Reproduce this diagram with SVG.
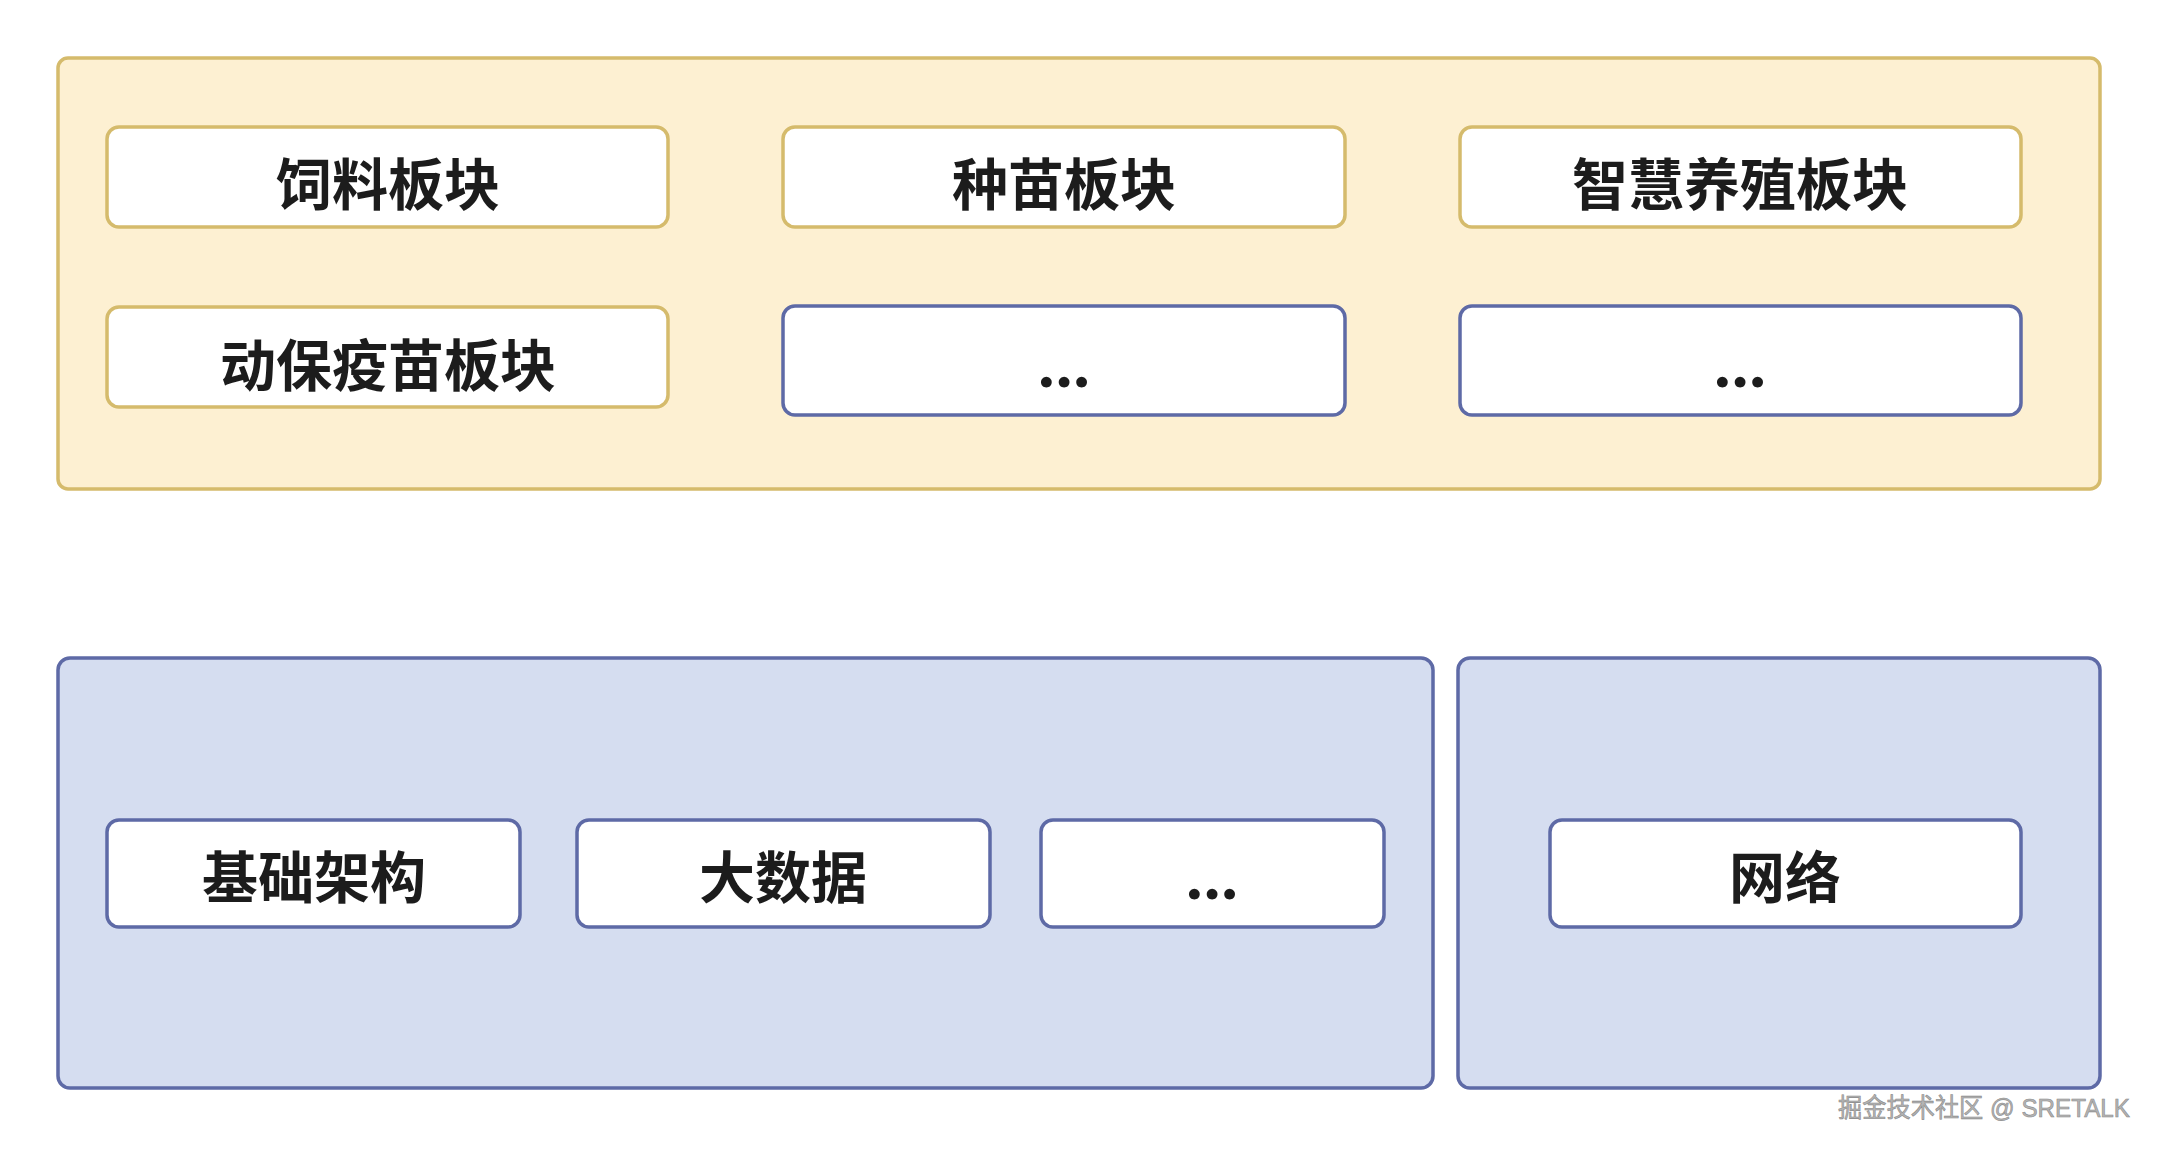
<svg xmlns="http://www.w3.org/2000/svg" width="2160" height="1150" viewBox="0 0 2160 1150">
  <style>
    .cy { fill: #fdf0d2; stroke: #d5bb6c; stroke-width: 3.5; }
    .cb { fill: #d5ddf0; stroke: #5e6aa6; stroke-width: 3.5; }
    .by { fill: #ffffff; stroke: #d5bb6c; stroke-width: 3.5; }
    .bb { fill: #ffffff; stroke: #5e6aa6; stroke-width: 3.5; }
    .t { font-family: "Liberation Sans", "Noto Sans CJK SC", sans-serif; font-weight: 700; font-size: 56px; fill: #1c1c1c; text-anchor: middle; }
    .d { font-family: Lato, "Liberation Sans", sans-serif; font-weight: 900; font-size: 66px; fill: #1c1c1c; text-anchor: middle; letter-spacing: 2px; }
    .w { font-family: "Liberation Sans", "Noto Sans CJK SC", sans-serif; font-size: 26px; fill: #b4b4b4; stroke: #8a8a8a; stroke-width: 0.6; }
  </style>
  <rect width="2160" height="1150" fill="#ffffff"/>

  <g id="top-layer">
    <rect class="cy" x="58" y="58" width="2042" height="431" rx="10"/>
  </g>
  <g id="bottom-left-layer">
    <rect class="cb" x="58" y="658" width="1375" height="430" rx="12"/>
  </g>
  <g id="bottom-right-layer">
    <rect class="cb" x="1458" y="658" width="642" height="430" rx="12"/>
  </g>

  <g id="node-feed">
    <rect class="by" x="107" y="127" width="561" height="100" rx="12"/>
    <text class="t" x="388" y="205">饲料板块</text>
  </g>
  <g id="node-seed">
    <rect class="by" x="783" y="127" width="562" height="100" rx="12"/>
    <text class="t" x="1064" y="205">种苗板块</text>
  </g>
  <g id="node-smart">
    <rect class="by" x="1460" y="127" width="561" height="100" rx="12"/>
    <text class="t" x="1740" y="205">智慧养殖板块</text>
  </g>
  <g id="node-vaccine">
    <rect class="by" x="107" y="307" width="561" height="100" rx="12"/>
    <text class="t" x="388" y="386">动保疫苗板块</text>
  </g>
  <g id="node-more-1">
    <rect class="bb" x="783" y="306" width="562" height="109" rx="12"/>
    <text class="d" x="1065" y="387">...</text>
  </g>
  <g id="node-more-2">
    <rect class="bb" x="1460" y="306" width="561" height="109" rx="12"/>
    <text class="d" x="1741" y="387">...</text>
  </g>

  <g id="node-infra">
    <rect class="bb" x="107" y="820" width="413" height="107" rx="12"/>
    <text class="t" x="314" y="898">基础架构</text>
  </g>
  <g id="node-bigdata">
    <rect class="bb" x="577" y="820" width="413" height="107" rx="12"/>
    <text class="t" x="783" y="898">大数据</text>
  </g>
  <g id="node-more-3">
    <rect class="bb" x="1041" y="820" width="343" height="107" rx="12"/>
    <text class="d" x="1213" y="899">...</text>
  </g>
  <g id="node-network">
    <rect class="bb" x="1550" y="820" width="471" height="107" rx="12"/>
    <text class="t" x="1785" y="898">网络</text>
  </g>

  <g id="connectors"></g>

  <text class="w" x="1838" y="1117" textLength="292" lengthAdjust="spacingAndGlyphs">掘金技术社区 @ SRETALK</text>
</svg>
